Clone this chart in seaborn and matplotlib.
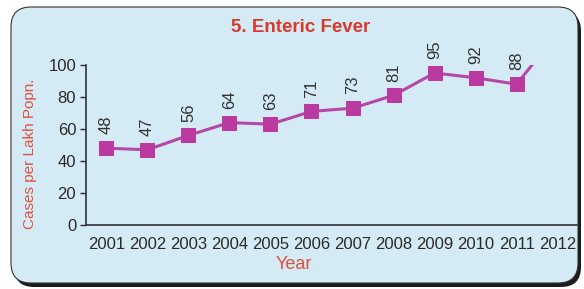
import numpy as np
import pandas as pd
import matplotlib.pyplot as plt
import seaborn as sns
from matplotlib.patches import FancyBboxPatch

# data (2012 runs off the top of the axis)
years = ['2001', '2002', '2003', '2004', '2005', '2006',
         '2007', '2008', '2009', '2010', '2011', '2012']
cases = [48, 47, 56, 64, 63, 71, 73, 81, 95, 92, 88, 120]

df = pd.DataFrame({'year': years, 'cases': cases})
df['pos'] = np.arange(len(df))

sns.set_style('white')
plt.rcParams['font.family'] = ['Liberation Sans', 'DejaVu Sans']

fig = plt.figure(figsize=(5.84, 2.89), dpi=100)
fig.patch.set_facecolor('white')

# rounded panel with dark shadow, drawn in pixel coordinates
shadow = FancyBboxPatch((14, 2), 567, 276, boxstyle='round,pad=0,rounding_size=20',
                        transform=None, facecolor='#1c1c1c', edgecolor='none', zorder=0)
panel = FancyBboxPatch((11, 6), 567, 276, boxstyle='round,pad=0,rounding_size=20',
                       transform=None, facecolor='#d4ebf6', edgecolor='#333333',
                       linewidth=0.8, zorder=1)
fig.patches.extend([shadow, panel])

ax = fig.add_axes([0.147, 0.2215, 0.843, 0.5536])
ax.set_facecolor('none')
ax.set_zorder(2)

purple = '#bb3a9f'
sns.lineplot(data=df, x='pos', y='cases', ax=ax, color='#b548a6', linewidth=2.2,
             marker='s', markersize=10, markerfacecolor=purple,
             markeredgecolor=purple)

for p, v in zip(df['pos'], df['cases']):
    ax.annotate(str(v), (p, v), xytext=(0, 10), textcoords='offset points',
                rotation=90, ha='center', va='bottom', fontsize=12,
                color='#333333', annotation_clip=True)

ax.set_xlim(-0.5, len(years) - 0.5)
ax.set_ylim(0, 100)
ax.set_yticks(range(0, 101, 20))
ax.set_xticks(df['pos'])
ax.set_xticklabels(years)
ax.set_xticks(np.arange(-0.5, len(years), 1), minor=True)
ax.tick_params(axis='x', which='major', length=0, pad=9, labelsize=12, colors='#2a2a2a')
ax.tick_params(axis='x', which='minor', length=4, width=1, color='#333333', direction='out')
ax.tick_params(axis='y', length=4, width=1, pad=3, labelsize=12, colors='#2a2a2a',
               direction='out', left=True)

for s in ['top', 'right']:
    ax.spines[s].set_visible(False)
for s in ['left', 'bottom']:
    ax.spines[s].set_color('#333333')
    ax.spines[s].set_linewidth(1.2)

ax.set_xlabel('')
ax.set_ylabel('')
fig.text(0.514, 0.906, '5. Enteric Fever', ha='center', va='center',
         fontsize=13.5, fontweight='bold', color='#d83a2c')
fig.text(0.051, 0.467, 'Cases per Lakh Popn.', ha='center', va='center',
         rotation=90, fontsize=11, color='#e0503e')
fig.text(0.503, 0.086, 'Year', ha='center', va='center', fontsize=13, color='#e0503e')

fig.savefig('out.png', dpi=100)
